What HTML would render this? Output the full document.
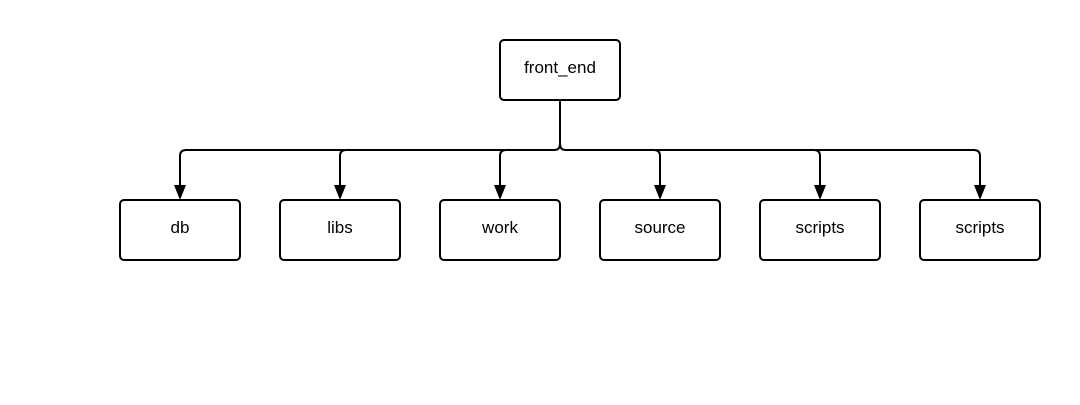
<!DOCTYPE html>
<html><head><style>body{margin:0;background:#fff}</style></head><body>
<svg width="1080" height="400" xmlns="http://www.w3.org/2000/svg" font-family="Liberation Sans, sans-serif" font-size="17">
<g fill="none" stroke="#000" stroke-width="2">
<rect x="500" y="40" width="120" height="60" rx="4"/>
<path d="M560 100 V144 Q560 150 554 150 H186 Q180 150 180 156 V188"/>
<path d="M560 144 Q560 150 566 150 H974 Q980 150 980 156 V188"/>
<path d="M346 150 Q340 150 340 156 V188 M506 150 Q500 150 500 156 V188 M654 150 Q660 150 660 156 V188 M814 150 Q820 150 820 156 V188"/>
<rect x="120" y="200" width="120" height="60" rx="4"/>
<rect x="280" y="200" width="120" height="60" rx="4"/>
<rect x="440" y="200" width="120" height="60" rx="4"/>
<rect x="600" y="200" width="120" height="60" rx="4"/>
<rect x="760" y="200" width="120" height="60" rx="4"/>
<rect x="920" y="200" width="120" height="60" rx="4"/>
</g>
<g fill="#000">
<path d="M174 185 H186 L180 200Z"/><path d="M334 185 H346 L340 200Z"/><path d="M494 185 H506 L500 200Z"/>
<path d="M654 185 H666 L660 200Z"/><path d="M814 185 H826 L820 200Z"/><path d="M974 185 H986 L980 200Z"/>
</g>
<g text-anchor="middle" fill="#000">
<text x="560" y="73">front_end</text>
<text x="180" y="233">db</text>
<text x="340" y="233">libs</text>
<text x="500" y="233">work</text>
<text x="660" y="233">source</text>
<text x="820" y="233">scripts</text>
<text x="980" y="233">scripts</text>
</g>
</svg>
</body></html>
